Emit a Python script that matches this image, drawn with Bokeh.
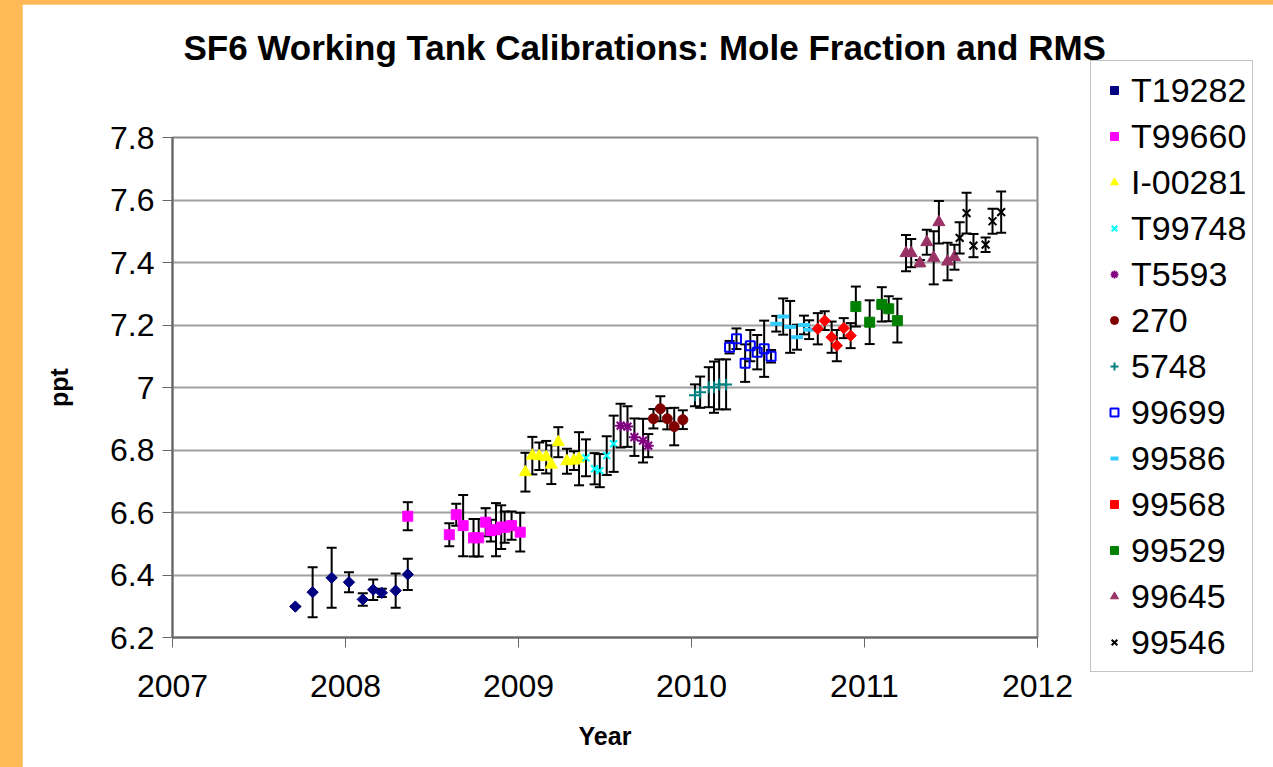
import math
from bokeh.plotting import figure
from bokeh.layouts import column
from bokeh.models import (ColumnDataSource, FixedTicker, Legend, LegendItem, Title)
from bokeh.embed import file_html
from bokeh.resources import INLINE

# ---- calibration results: decimal year, mole fraction (ppt), RMS (ppt) ----
t19282_x = [2007.71, 2007.81, 2007.92, 2008.02, 2008.10, 2008.16, 2008.21, 2008.29, 2008.36]
t19282_y = [6.299, 6.345, 6.391, 6.377, 6.322, 6.353, 6.343, 6.350, 6.402]
t19282_e = [0.0, 0.08, 0.096, 0.032, 0.02, 0.033, 0.013, 0.055, 0.05]

t99660_x = [2008.36, 2008.60, 2008.64, 2008.68, 2008.74, 2008.77, 2008.81, 2008.84,
            2008.87, 2008.90, 2008.92, 2008.96, 2009.01]
t99660_y = [6.588, 6.529, 6.593, 6.558, 6.519, 6.519, 6.569, 6.542, 6.545, 6.553,
            6.553, 6.558, 6.537]
t99660_e = [0.045, 0.037, 0.035, 0.098, 0.06, 0.06, 0.045, 0.035, 0.085, 0.07,
            0.05, 0.045, 0.062]

i00281_x = [2009.04, 2009.08, 2009.12, 2009.16, 2009.19, 2009.23, 2009.28, 2009.32, 2009.35]
i00281_y = [6.729, 6.782, 6.780, 6.777, 6.753, 6.825, 6.764, 6.766, 6.772]
i00281_e = [0.062, 0.06, 0.044, 0.052, 0.062, 0.048, 0.04, 0.03, 0.085]

t99748_x = [2009.39, 2009.44, 2009.47, 2009.51, 2009.55]
t99748_y = [6.775, 6.740, 6.734, 6.782, 6.820]
t99748_e = [0.059, 0.05, 0.053, 0.062, 0.09]

t5593_x = [2009.59, 2009.63, 2009.67, 2009.72, 2009.75]
t5593_y = [6.878, 6.875, 6.841, 6.830, 6.814]
t5593_e = [0.07, 0.065, 0.06, 0.07, 0.037]

c270_x = [2009.78, 2009.82, 2009.86, 2009.90, 2009.95]
c270_y = [6.900, 6.932, 6.900, 6.875, 6.897]
c270_e = [0.031, 0.04, 0.034, 0.06, 0.03]

c5748_x = [2010.02, 2010.05, 2010.10, 2010.13, 2010.16, 2010.20]
c5748_y = [6.975, 6.985, 7.001, 7.001, 7.010, 7.010]
c5748_e = [0.035, 0.05, 0.064, 0.082, 0.08, 0.08]

c99699_x = [2010.22, 2010.26, 2010.31, 2010.34, 2010.38, 2010.42, 2010.46]
c99699_y = [7.129, 7.156, 7.078, 7.134, 7.113, 7.124, 7.100]
c99699_e = [0.02, 0.033, 0.06, 0.05, 0.055, 0.09, 0.02]

c99586_x = [2010.49, 2010.53, 2010.57, 2010.61, 2010.65, 2010.68]
c99586_y = [7.204, 7.227, 7.194, 7.161, 7.200, 7.185]
c99586_e = [0.025, 0.058, 0.083, 0.04, 0.03, 0.03]

c99568_x = [2010.73, 2010.77, 2010.81, 2010.84, 2010.88, 2010.92]
c99568_y = [7.188, 7.214, 7.161, 7.134, 7.190, 7.166]
c99568_e = [0.05, 0.03, 0.05, 0.05, 0.032, 0.04]

c99529_x = [2010.95, 2011.03, 2011.10, 2011.14, 2011.19]
c99529_y = [7.259, 7.209, 7.266, 7.252, 7.214]
c99529_e = [0.064, 0.07, 0.055, 0.04, 0.07]

c99645_x = [2011.24, 2011.27, 2011.32, 2011.36, 2011.40, 2011.43, 2011.48, 2011.52]
c99645_y = [7.430, 7.430, 7.398, 7.465, 7.415, 7.529, 7.403, 7.417]
c99645_e = [0.058, 0.045, 0.01, 0.04, 0.085, 0.068, 0.06, 0.04]

c99546_x = [2011.55, 2011.59, 2011.63, 2011.70, 2011.74, 2011.79]
c99546_y = [7.479, 7.558, 7.454, 7.457, 7.532, 7.561]
c99546_e = [0.05, 0.065, 0.037, 0.023, 0.04, 0.066]

x_ticks = [2007, 2008, 2009, 2010, 2011, 2012]
x_tick_labels = ["2007", "2008", "2009", "2010", "2011", "2012"]
y_ticks = [6.2, 6.4, 6.6, 6.8, 7.0, 7.2, 7.4, 7.6, 7.8]
y_tick_labels = ["6.2", "6.4", "6.6", "6.8", "7", "7.2", "7.4", "7.6", "7.8"]

FONT = "Liberation Sans"
ORANGE = "#FFB957"

# name, x, y, rms, marker, size, fill, line, line width, angle
series = [
    ("T19282", t19282_x, t19282_y, t19282_e, "square", 8, "#000080", "#000080", 1, math.pi / 4),
    ("T99660", t99660_x, t99660_y, t99660_e, "square", 10, "#FF00FF", "#FF00FF", 1, 0),
    ("I-00281", i00281_x, i00281_y, i00281_e, "triangle", 12, "#FFFF00", "#FFFF00", 1, 0),
    ("T99748", t99748_x, t99748_y, t99748_e, "x", 10, None, "#00FFFF", 2, 0),
    ("T5593", t5593_x, t5593_y, t5593_e, "asterisk", 11, None, "#800080", 2, 0),
    ("270", c270_x, c270_y, c270_e, "circle", 10, "#800000", "#800000", 1, 0),
    ("5748", c5748_x, c5748_y, c5748_e, "cross", 12, None, "#008080", 2, 0),
    ("99699", c99699_x, c99699_y, c99699_e, "square", 9, None, "#0000FF", 2, 0),
    ("99586", c99586_x, c99586_y, c99586_e, "dash", 12, None, "#33CCFF", 4, 0),
    ("99568", c99568_x, c99568_y, c99568_e, "square", 8, "#FF0000", "#FF0000", 1, math.pi / 4),
    ("99529", c99529_x, c99529_y, c99529_e, "square", 10, "#008000", "#008000", 1, 0),
    ("99645", c99645_x, c99645_y, c99645_e, "triangle", 12, "#993366", "#993366", 1, 0),
    ("99546", c99546_x, c99546_y, c99546_e, "x", 11, None, "#000000", 2, 0),
]

# the white page sits inside an orange surround: 22px left, 4px top and right
p = figure(frame_width=865, frame_height=500,
           min_border_left=150, min_border_right=232,
           min_border_top=133, min_border_bottom=130,
           x_range=(2007, 2012), y_range=(6.2, 7.8),
           output_backend="svg", toolbar_location=None,
           background_fill_color="white", border_fill_color="white",
           outline_line_color="#888888", outline_line_width=2)
p.title = None
p.margin = (4, 4, 0, 22)

# blank band between the plot area and the heading, then the heading itself
p.add_layout(Title(text=" ", text_font=FONT, text_font_size="10px", standoff=58), "above")
p.add_layout(Title(text="SF6 Working Tank Calibrations: Mole Fraction and RMS",
                   align="left", offset=11, standoff=0,
                   text_font=FONT, text_font_style="bold", text_font_size="35px",
                   text_color="black"), "above")

# axes
for ax in (p.xaxis, p.yaxis):
    ax.axis_line_color = "#666666"
    ax.axis_line_width = 2
    ax.major_tick_line_color = "#666666"
    ax.major_tick_line_width = 1
    ax.major_tick_in = 0
    ax.major_tick_out = 10
    ax.minor_tick_line_color = None
    ax.major_label_text_font = FONT
    ax.major_label_text_font_size = "32px"
    ax.major_label_text_color = "black"
    ax.axis_label_text_font = FONT
    ax.axis_label_text_font_style = "bold"
    ax.axis_label_text_font_size = "25px"
    ax.axis_label_text_color = "black"

p.xaxis.ticker = FixedTicker(ticks=x_ticks)
p.xaxis.major_label_overrides = dict(zip(x_ticks, x_tick_labels))
p.xaxis.axis_label = "Year"
p.xaxis.major_label_standoff = 27
p.xaxis.axis_label_standoff = 22

p.yaxis.ticker = FixedTicker(ticks=y_ticks)
p.yaxis.major_label_overrides = dict(zip(y_ticks, y_tick_labels))
p.yaxis.axis_label = "ppt"
p.yaxis.major_label_standoff = 8
p.yaxis.axis_label_standoff = 34

p.xgrid.grid_line_color = None
p.ygrid.grid_line_color = "#A0A0A0"
p.ygrid.grid_line_width = 2

legend_items = []
for name, xs, ys, es, marker, size, fill, line, lw, ang in series:
    src = ColumnDataSource(dict(
        x=xs, y=ys,
        lo=[v - e for v, e in zip(ys, es)],
        hi=[v + e for v, e in zip(ys, es)],
    ))
    # RMS error bars with caps
    p.segment(x0="x", y0="lo", x1="x", y1="hi", source=src,
              line_color="black", line_width=2)
    p.scatter(x="x", y="lo", source=src, marker="dash", size=10,
              line_color="black", line_width=2)
    p.scatter(x="x", y="hi", source=src, marker="dash", size=10,
              line_color="black", line_width=2)
    r = p.scatter(x="x", y="y", source=src, marker=marker, size=size,
                  angle=ang, fill_color=fill, line_color=line, line_width=lw)
    legend_items.append(LegendItem(label=name, renderers=[r]))

legend = Legend(items=legend_items, location=(53, -35),
                label_text_font=FONT, label_text_font_size="34px",
                label_text_color="black",
                glyph_width=34, glyph_height=20, label_height=46,
                label_standoff=0, spacing=0, padding=6, margin=0,
                border_line_color="#888888", border_line_width=1.5,
                background_fill_color="white", background_fill_alpha=1)
p.add_layout(legend, "right")

page = column(p, styles={"background-color": ORANGE})

open("out.html", "w").write(file_html(page, INLINE))
